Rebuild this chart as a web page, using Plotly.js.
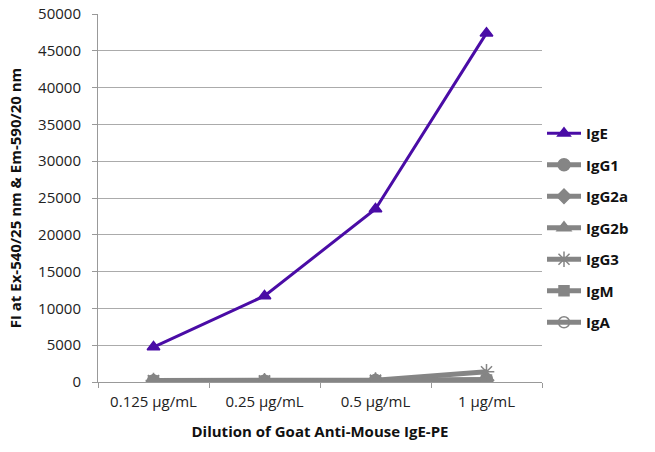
<!DOCTYPE html>
<html><head><meta charset="utf-8">
<script src="https://cdn.plot.ly/plotly-3.0.1.min.js"></script>
<style>body{margin:0;background:#fff}#c{width:655px;height:452px}</style>
</head><body><div id="c"></div>
<script>
const categories = ["0.125 µg/mL", "0.25 µg/mL", "0.5 µg/mL", "1 µg/mL"];
const seriesNames = ["IgE", "IgG1", "IgG2a", "IgG2b", "IgG3", "IgM", "IgA"];
const IgE   = [4750, 11700, 23500, 47400];
const IgG1  = [150, 100, 200, 300];
const IgG2a = [120, 90, 180, 250];
const IgG2b = [140, 110, 190, 280];
const IgG3  = [200, 150, 250, 1400];
const IgM   = [130, 100, 170, 260];
const IgA   = [110, 80, 160, 240];
const seriesValues = [IgE, IgG1, IgG2a, IgG2b, IgG3, IgM, IgA];
const yTicks = [0, 5000, 10000, 15000, 20000, 25000, 30000, 35000, 40000, 45000, 50000];

const styles = [
  {color: "#4a0ca6", symbol: "triangle-up", size: 11, width: 3},
  {color: "#858585", symbol: "circle", size: 12, width: 5},
  {color: "#858585", symbol: "diamond", size: 11, width: 5},
  {color: "#858585", symbol: "triangle-up", size: 12, width: 5},
  {color: "#858585", symbol: "asterisk-open", size: 13, width: 5},
  {color: "#858585", symbol: "square", size: 10, width: 5},
  {color: "#858585", symbol: "circle-open", size: 11, width: 5}
];

const traces = seriesNames.map((n, i) => ({
  type: "scatter", mode: "lines+markers", name: n, x: categories, y: seriesValues[i],
  legendgroup: n,
  line: {color: styles[i].color, width: styles[i].width},
  marker: {color: styles[i].color, symbol: styles[i].symbol, size: styles[i].size,
           line: {color: styles[i].color, width: 1.5}}
}));

const layout = {
  width: 655, height: 452,
  margin: {l: 98, r: 113, t: 14, b: 70},
  paper_bgcolor: "#fff", plot_bgcolor: "#fff",
  font: {family: "Open Sans, Liberation Sans, sans-serif", color: "#222", size: 15},
  showlegend: true,
  legend: {x: 1.0, y: 0.72, yanchor: "top", xanchor: "left", traceorder: "grouped",
           tracegroupgap: 9, font: {size: 15, color: "#111", family: "Open Sans, sans-serif", weight: "bold"},
           itemwidth: 34},
  xaxis: {type: "category", range: [-0.5, 3.5], showgrid: false, zeroline: false,
          showline: true, linecolor: "#999", linewidth: 1,
          ticks: "outside", ticklen: 5, tickcolor: "#999", tickson: "boundaries",
          tickfont: {size: 15, color: "#222"}, ticklabelstandoff: 6,
          title: {text: "Dilution of Goat Anti-Mouse IgE-PE", font: {size: 15, color: "#111", weight: "bold"}, standoff: 16}},
  yaxis: {range: [0, 50000], tickvals: yTicks, ticktext: yTicks.map(String),
          showgrid: true, gridcolor: "#ababab", gridwidth: 1, zeroline: false,
          showline: true, linecolor: "#999", linewidth: 1,
          ticks: "outside", ticklen: 5, tickcolor: "#999",
          tickfont: {size: 15, color: "#222"}, ticklabelstandoff: 8,
          title: {text: "FI at Ex-540/25 nm & Em-590/20 nm", font: {size: 15, color: "#111", weight: "bold"}, standoff: 12}}
};
Plotly.newPlot("c", traces, layout, {displayModeBar: false, staticPlot: true});
</script></body></html>
